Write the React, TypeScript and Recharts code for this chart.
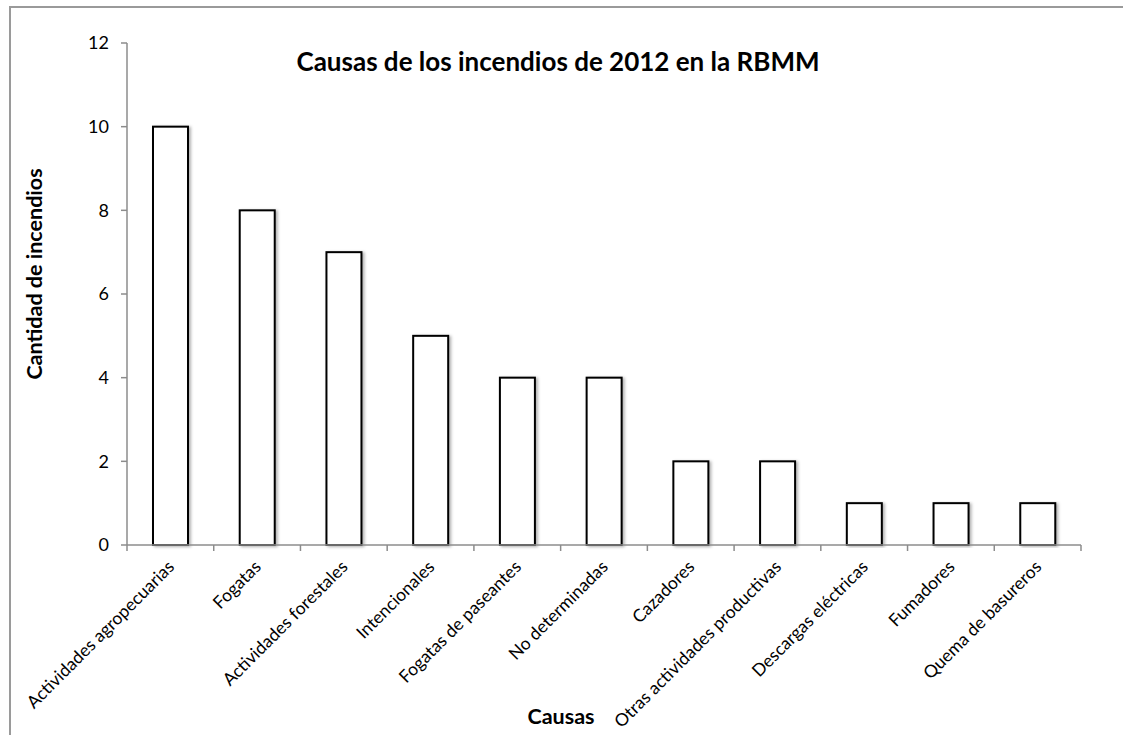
import React from 'react';
import { BarChart, Bar, XAxis, YAxis } from 'recharts';

const causas = [
  'Actividades agropecuarias',
  'Fogatas',
  'Actividades forestales',
  'Intencionales',
  'Fogatas de paseantes',
  'No determinadas',
  'Cazadores',
  'Otras actividades productivas',
  'Descargas eléctricas',
  'Fumadores',
  'Quema de basureros',
];
const incendios = [10, 8, 7, 5, 4, 4, 2, 2, 1, 1, 1];
const yTicks = [0, 2, 4, 6, 8, 10, 12];

const data = causas.map((causa, i) => ({ causa, incendios: incendios[i] }));

const W = 1123;
const H = 735;
const PLOT_LEFT = 127;
const PLOT_RIGHT = 1081;
const FONT = 'Lato, "Open Sans", sans-serif';
const AXIS = '#8c8c8c';
const BAND = (PLOT_RIGHT - PLOT_LEFT) / causas.length;

// category labels at 45°, with tick marks on the category boundaries
function CausaTick(props: any) {
  const { x, y, payload, index } = props;
  const tx = x + 5;
  const ty = y + 23;
  return (
    <g>
      {index === 0 && (
        <line x1={x - BAND / 2} x2={x - BAND / 2} y1={y} y2={y + 6} stroke={AXIS} strokeWidth={1.5} />
      )}
      <line x1={x + BAND / 2} x2={x + BAND / 2} y1={y} y2={y + 6} stroke={AXIS} strokeWidth={1.5} />
      <text
        x={tx}
        y={ty}
        textAnchor="end"
        fontSize={17.5}
        fontFamily={FONT}
        fill="#000"
        transform={`rotate(-45 ${tx} ${ty})`}
      >
        {payload.value}
      </text>
    </g>
  );
}

function ShadowBar(props: any) {
  const { x, y, width, height } = props;
  return (
    <rect
      x={x}
      y={y}
      width={width}
      height={height}
      fill="#fff"
      stroke="#000"
      strokeWidth={2}
      filter="url(#barShadow)"
    />
  );
}

export default function App() {
  return (
    <div style={{ position: 'absolute', left: 0, top: 0, width: W, height: H, background: '#fff', overflow: 'hidden' }}>
      <div
        style={{
          position: 'absolute',
          left: 9,
          top: 6,
          right: 0,
          bottom: 0,
          borderTop: '2px solid #9a9a9a',
          borderLeft: '2px solid #9a9a9a',
        }}
      />
      <div style={{ position: 'absolute', left: 0, top: 0 }}>
        <BarChart
          width={W}
          height={H}
          data={data}
          margin={{ top: 43, right: W - PLOT_RIGHT, bottom: 40, left: PLOT_LEFT - 60 }}
          barCategoryGap="0%"
        >
          <defs>
            <filter id="barShadow" x="-20%" y="-5%" width="140%" height="110%">
              <feDropShadow dx={2} dy={1} stdDeviation={1.5} floodColor="#000" floodOpacity={0.3} />
            </filter>
          </defs>
          <XAxis
            dataKey="causa"
            interval={0}
            height={150}
            axisLine={{ stroke: AXIS, strokeWidth: 1.5 }}
            tickLine={false}
            tickSize={0}
            tickMargin={0}
            tick={<CausaTick />}
          />
          <YAxis
            width={60}
            domain={[0, 12]}
            ticks={yTicks}
            interval={0}
            axisLine={{ stroke: AXIS, strokeWidth: 1.5 }}
            tickLine={{ stroke: AXIS, strokeWidth: 1.5 }}
            tickSize={6}
            tickMargin={12}
            tick={{ fontSize: 18, fontFamily: FONT, fill: '#000' }}
          />
          <Bar dataKey="incendios" barSize={35} shape={<ShadowBar />} isAnimationActive={false} />
        </BarChart>
      </div>
      <div
        style={{
          position: 'absolute',
          left: 558,
          top: 61,
          transform: 'translate(-50%, -50%)',
          fontFamily: FONT,
          fontWeight: 700,
          fontSize: 26,
          whiteSpace: 'nowrap',
          color: '#000',
        }}
      >
        Causas de los incendios de 2012 en la RBMM
      </div>
      <div
        style={{
          position: 'absolute',
          left: 34,
          top: 274,
          transform: 'translate(-50%, -50%) rotate(-90deg)',
          fontFamily: FONT,
          fontWeight: 700,
          fontSize: 21.5,
          whiteSpace: 'nowrap',
          color: '#000',
        }}
      >
        Cantidad de incendios
      </div>
      <div
        style={{
          position: 'absolute',
          left: 561,
          top: 716,
          transform: 'translate(-50%, -50%)',
          fontFamily: FONT,
          fontWeight: 700,
          fontSize: 21.5,
          whiteSpace: 'nowrap',
          color: '#000',
        }}
      >
        Causas
      </div>
    </div>
  );
}
